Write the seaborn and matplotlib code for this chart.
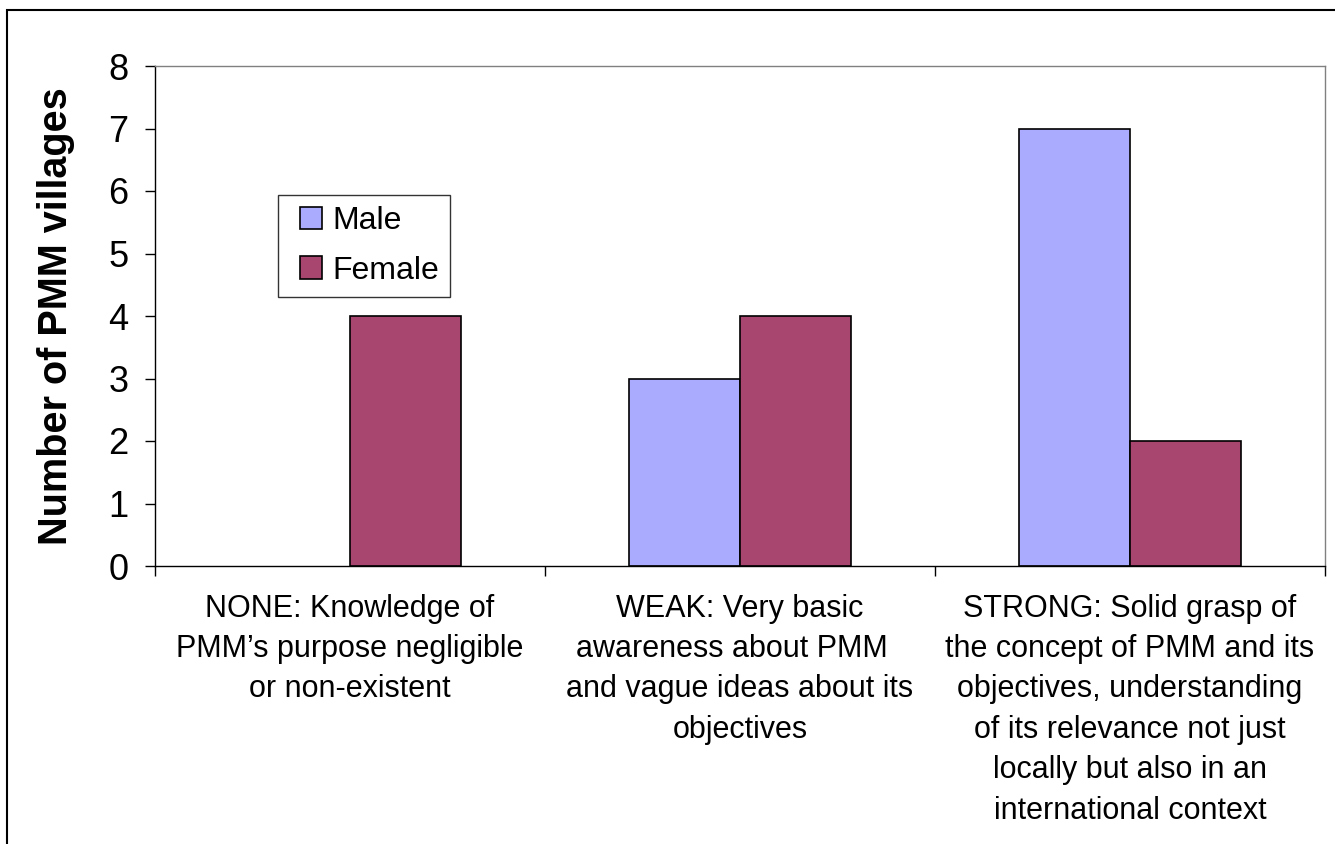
import matplotlib
matplotlib.use("Agg")
import matplotlib.pyplot as plt
import matplotlib.patches as mpatches
from matplotlib.legend_handler import HandlerPatch
import seaborn as sns
import pandas as pd
import numpy as np

categories = [
    "NONE: Knowledge of\nPMM\u2019s purpose negligible\nor non-existent",
    "WEAK: Very basic\nawareness about PMM  \nand vague ideas about its\nobjectives",
    "STRONG: Solid grasp of\nthe concept of PMM and its\nobjectives, understanding\nof its relevance not just\nlocally but also in an\ninternational context",
]
male = [0, 3, 7]
female = [4, 4, 2]
series = ["Male", "Female"]
colors = ["#AAAAFF", "#A8466F"]

df = pd.DataFrame({
    "cat": categories * 2,
    "value": male + female,
    "series": ["Male"] * 3 + ["Female"] * 3,
})

sns.set_theme(style="white")
plt.rcParams["font.family"] = ["Liberation Sans", "DejaVu Sans"]
plt.rcParams["text.color"] = "black"
plt.rcParams["axes.labelcolor"] = "black"
plt.rcParams["xtick.color"] = "black"
plt.rcParams["ytick.color"] = "black"

fig = plt.figure(figsize=(13.35, 8.44), dpi=100)
ax = fig.add_axes([155/1335, 1-566/844, 1170/1335, 500/844])

sns.barplot(data=df, x="cat", y="value", hue="series", hue_order=series,
            palette=colors, width=0.57, gap=0, edgecolor="black", linewidth=1.2,
            saturation=1, ax=ax, legend=True)

for cont in ax.containers:
    for p in cont:
        if p.get_height() == 0:
            p.set_visible(False)

ax.set_xlim(-0.5, 2.5)
ax.set_ylim(0, 8)
ax.set_yticks(range(0, 9))
ax.tick_params(axis="y", labelsize=26, length=7, width=1, direction="out",
               colors="black", left=True, pad=12)
ax.set_xticks(range(3))
ax.set_xticklabels(categories, fontsize=22, linespacing=1.45, color="black")
ax.tick_params(axis="x", which="major", length=0, pad=20)
ax.set_xticks([-0.5, 0.5, 1.5, 2.5], minor=True)
ax.tick_params(axis="x", which="minor", length=7, width=1, color="black",
               bottom=True, direction="out")
ax.set_xlabel("")
ax.set_ylabel("Number of PMM villages", fontsize=28.5, fontweight="bold",
              labelpad=24, color="black")

for s in ["top", "right"]:
    ax.spines[s].set_color("#808080")
    ax.spines[s].set_linewidth(1)
for s in ["left", "bottom"]:
    ax.spines[s].set_color("black")
    ax.spines[s].set_linewidth(1)


def square_right(legend, orig_handle, xdescent, ydescent, width, height, fontsize):
    return mpatches.Rectangle((width - height - xdescent, -ydescent), height, height)


handles, labels = ax.get_legend_handles_labels()
leg = ax.legend(handles, labels, loc="upper left",
                bbox_to_anchor=((278-155)/1170, (566-195)/500),
                fontsize=23, frameon=True, fancybox=False, edgecolor="black",
                handlelength=1.05, handleheight=0.7, handletextpad=0.3,
                borderpad=0.34, labelspacing=0.62, borderaxespad=0,
                handler_map={mpatches.Rectangle: HandlerPatch(patch_func=square_right)})
leg.get_frame().set_linewidth(1)
for t in leg.get_texts():
    t.set_color("black")

fig.patches.append(mpatches.Rectangle((7/1335, -0.2), 1.2, 1.2 - 10/844,
                                      transform=fig.transFigure, fill=False,
                                      edgecolor="black", linewidth=1.5))

fig.savefig("out.png", dpi=100)
